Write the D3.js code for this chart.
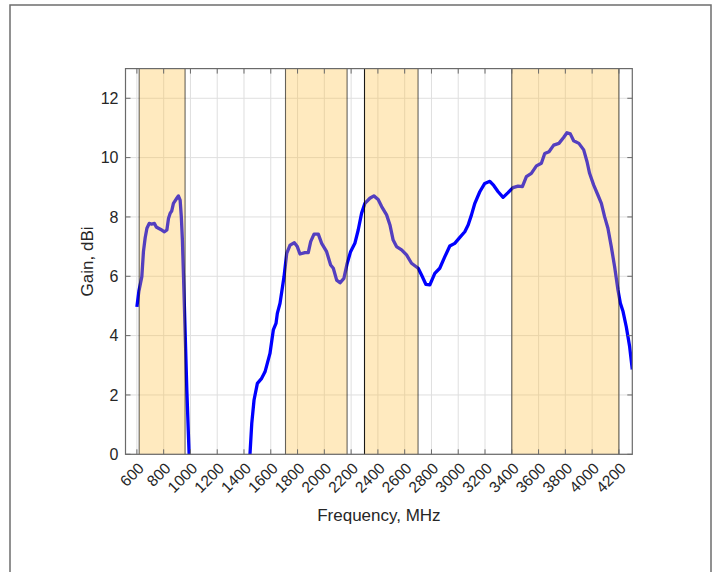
<!DOCTYPE html>
<html>
<head>
<meta charset="utf-8">
<script src="https://cdn.jsdelivr.net/npm/d3@7"></script>
<style>
  body { margin: 0; background: #fff; }
  text { font-family: "Liberation Sans", Arial, Helvetica, sans-serif; fill: #262626; }
</style>
</head>
<body>
<svg id="chart" width="720" height="572"></svg>
<script>
'use strict'

// measured gain curve (null = below the axis, gap)
const freqMHz = [600, 615, 637, 649, 662, 675, 692, 710, 731, 745, 761, 786, 806, 824, 836, 848, 860, 873, 898, 910,
  923, 932, 940, 955, 973, 990, 1005, 1200, 1435, 1445, 1458, 1475, 1500, 1532, 1557, 1594, 1619, 1639, 1649,
  1669, 1682, 1699, 1719, 1744, 1776, 1798, 1818, 1855, 1880, 1898, 1923, 1955, 1980, 2017, 2047, 2067, 2092,
  2117, 2146, 2171, 2196, 2228, 2253, 2278, 2303, 2340, 2370, 2402, 2428, 2465, 2490, 2514, 2539, 2577, 2614,
  2651, 2701, 2726, 2758, 2788, 2825, 2862, 2900, 2937, 2974, 3012, 3049, 3074, 3099, 3124, 3161, 3198, 3236,
  3265, 3298, 3335, 3372, 3409, 3447, 3479, 3509, 3546, 3584, 3621, 3646, 3678, 3713, 3752, 3787, 3812, 3837,
  3862, 3901, 3937, 3962, 3981, 4011, 4043, 4069, 4093, 4118, 4143, 4168, 4193, 4211, 4231, 4255, 4280, 4300]
const gainDBi = [4.97, 5.5, 5.99, 6.83, 7.3, 7.62, 7.78, 7.76, 7.78, 7.66, 7.62, 7.56, 7.5, 7.56, 7.95, 8.12, 8.2, 8.46, 8.63, 8.71,
  8.57, 8.0, 7.22, 4.97, 2.17, 0.03, -1.5, null, -1.0, 0.03, 1.04, 1.83, 2.39, 2.56, 2.78, 3.4, 4.19, 4.41, 4.75,
  5.09, 5.48, 5.99, 6.77, 7.05, 7.13, 7.0, 6.75, 6.8, 6.8, 7.17, 7.42, 7.42, 7.11, 6.83, 6.38, 6.27, 5.87,
  5.78, 5.93, 6.44, 6.83, 7.11, 7.56, 8.12, 8.46, 8.63, 8.71, 8.59, 8.35, 8.07, 7.73, 7.22, 7.0, 6.89, 6.72,
  6.44, 6.27, 6.04, 5.73, 5.71, 6.1, 6.27, 6.66, 7.02, 7.11, 7.31, 7.5, 7.73, 8.07, 8.46, 8.85, 9.13, 9.2,
  9.06, 8.85, 8.66, 8.82, 8.99, 9.04, 9.02, 9.36, 9.47, 9.72, 9.81, 10.14, 10.2, 10.42, 10.48, 10.68, 10.84, 10.8,
  10.57, 10.48, 10.26, 9.86, 9.47, 9.08, 8.74, 8.46, 8.01, 7.62, 7.0, 6.32, 5.54, 5.09, 4.81, 4.3, 3.63, 2.86]

// highlighted frequency bands
const bandStart = [617, 1710, 2300, 3400]
const bandEnd = [960, 2170, 2700, 4200]

const xTicks = d3.range(600, 4201, 200)
const yTicks = [0, 2, 4, 6, 8, 10, 12]

const box = { left: 125.5, right: 632.3, top: 68.6, bottom: 454.3 }

const svg = d3.select('#chart')

// figure frame
svg.append('path')
  .attr('d', 'M10,572 V5 H711 V572')
  .attr('fill', 'none')
  .attr('stroke', '#6e6e6e')
  .attr('stroke-width', 1.5)

const x = d3.scaleLinear().domain([515, 4300]).range([box.left, box.right])
const y = d3.scaleLinear().domain([0, 13]).range([box.bottom, box.top])

svg.append('defs').append('clipPath').attr('id', 'clip')
  .append('rect')
  .attr('x', box.left).attr('y', box.top)
  .attr('width', box.right - box.left).attr('height', box.bottom - box.top)

// grid
const grid = svg.append('g').attr('stroke', '#dfdfdf').attr('stroke-width', 1)
grid.selectAll('.gx').data(xTicks).enter().append('line')
  .attr('x1', d => x(d)).attr('x2', d => x(d))
  .attr('y1', box.top).attr('y2', box.bottom)
grid.selectAll('.gy').data(yTicks).enter().append('line')
  .attr('x1', box.left).attr('x2', box.right)
  .attr('y1', d => y(d)).attr('y2', d => y(d))

// gain curve
const pts = freqMHz.map((f, i) => ({ f, g: gainDBi[i] }))
const line = d3.line()
  .defined(d => d.g !== null)
  .x(d => x(d.f))
  .y(d => y(d.g))

svg.append('path')
  .datum(pts)
  .attr('clip-path', 'url(#clip)')
  .attr('d', line)
  .attr('fill', 'none')
  .attr('stroke', '#0000ff')
  .attr('stroke-width', 3.3)
  .attr('stroke-linejoin', 'round')

// bands on top, semi transparent
const bands = svg.append('g')
bands.selectAll('rect').data(bandStart).enter().append('rect')
  .attr('x', (d, i) => x(d))
  .attr('width', (d, i) => x(bandEnd[i]) - x(d))
  .attr('y', box.top)
  .attr('height', box.bottom - box.top)
  .attr('fill', 'rgb(255,190,60)')
  .attr('fill-opacity', 0.33)
const edges = bandStart.concat(bandEnd)
bands.selectAll('line').data(edges).enter().append('line')
  .attr('x1', d => x(d)).attr('x2', d => x(d))
  .attr('y1', box.top).attr('y2', box.bottom)
  .attr('stroke', '#000')
  .attr('stroke-opacity', d => d === 2300 ? 0.9 : 0.6)
  .attr('stroke-width', 1.1)

// axes (box with inward ticks)
const axisColor = '#6a6a6a'
const axes = svg.append('g')
axes.append('rect')
  .attr('x', box.left).attr('y', box.top)
  .attr('width', box.right - box.left).attr('height', box.bottom - box.top)
  .attr('fill', 'none').attr('stroke', axisColor).attr('stroke-width', 1.2)

const tk = 5
axes.selectAll('.tb').data(xTicks).enter().append('path')
  .attr('d', d => `M${x(d)},${box.bottom}v${-tk}M${x(d)},${box.top}v${tk}`)
  .attr('stroke', axisColor)
axes.selectAll('.tl').data(yTicks).enter().append('path')
  .attr('d', d => `M${box.left},${y(d)}h${tk}M${box.right},${y(d)}h${-tk}`)
  .attr('stroke', axisColor)

// tick labels
svg.selectAll('.xl').data(xTicks).enter().append('text')
  .attr('transform', d => `translate(${x(d) + 8},${box.bottom + 15}) rotate(-45)`)
  .attr('text-anchor', 'end')
  .attr('font-size', 15.5)
  .text(d => d)

svg.selectAll('.yl').data(yTicks).enter().append('text')
  .attr('x', box.left - 7)
  .attr('y', d => y(d))
  .attr('dy', '0.36em')
  .attr('text-anchor', 'end')
  .attr('font-size', 16)
  .text(d => d)

// axis titles
svg.append('text')
  .attr('x', (box.left + box.right) / 2)
  .attr('y', 521)
  .attr('text-anchor', 'middle')
  .attr('font-size', 17)
  .text('Frequency, MHz')

svg.append('text')
  .attr('transform', `translate(93,${(box.top + box.bottom) / 2}) rotate(-90)`)
  .attr('text-anchor', 'middle')
  .attr('font-size', 17)
  .text('Gain, dBi')
</script>
</body>
</html>
